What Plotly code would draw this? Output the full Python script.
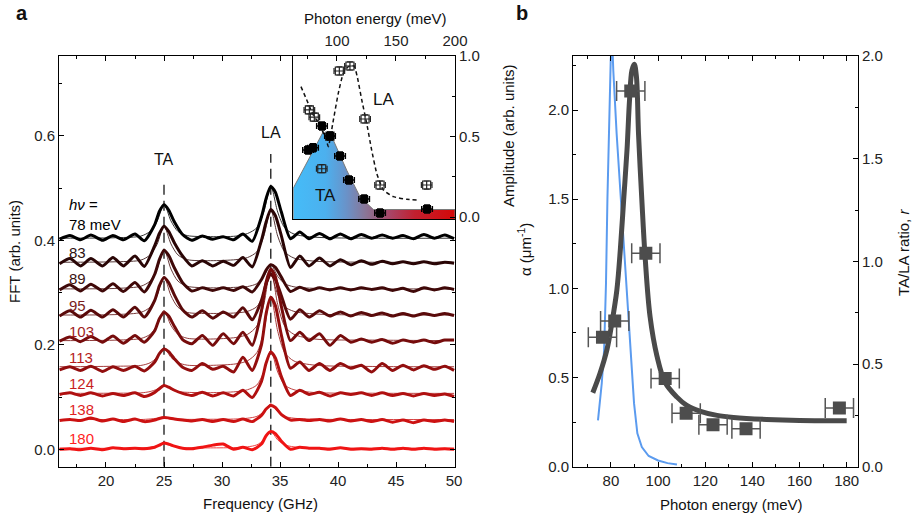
import plotly.graph_objects as go

# ---------------- Panel a: FFT spectra (values relative to each trace's offset) ----------------
freq = [16.0, 16.9, 17.8, 18.7, 19.7, 20.6, 21.5, 22.5, 23.3,
        24.2, 24.6, 25.0, 25.4, 25.9, 26.6,
        27.4, 28.3, 29.2, 30.1, 31.0, 31.8, 32.6,
        33.4, 33.8, 34.2, 34.6, 35.1,
        35.9, 36.7, 37.5, 38.4, 39.3, 40.2, 41.1, 42.0, 42.9, 43.8, 44.7, 45.6, 46.5, 47.4, 48.3, 49.2, 50.0]

energies_a = ["78", "83", "89", "95", "103", "113", "124", "138", "180"]
offsets = [0.40, 0.355, 0.305, 0.255, 0.205, 0.155, 0.105, 0.055, 0.0]

fft_78 = [.002, .009, .001, .010, .000, .009, .001, .012, -.001,
          .030, .055, .068, .058, .035, .011,
          .000, .008, .002, .007, .001, .012, -.002,
          .045, .080, .103, .092, .055,
          .003, .016, .003, .013, .003, .012, .003, .011, .004, .010, .004, .009, .003, .011, .004, .010, .003]
fft_83 = [.000, .010, -.004, .010, -.004, .012, -.004, .015, -.005,
          .035, .058, .072, .062, .040, .015,
          -.004, .006, -.004, .005, -.003, .012, -.006,
          .045, .080, .104, .092, .055,
          -.007, .015, -.004, .011, -.004, .008, -.002, .006, -.001, .005, .000, .004, .000, .004, .000, .003, .001]
fft_89 = [.000, .010, -.002, .011, -.002, .012, -.003, .014, -.004,
          .030, .058, .076, .066, .042, .014,
          -.002, .004, -.001, .004, -.001, .006, -.004,
          .020, .038, .048, .043, .025,
          -.003, .005, -.001, .004, .000, .004, .000, .004, .001, .004, -.001, .003, -.003, .004, .000, .004, .001]
fft_95 = [.000, .010, -.002, .011, -.002, .012, -.002, .017, -.002,
          .030, .058, .074, .064, .040, .012,
          -.002, .010, -.004, .008, -.002, .016, -.007,
          .030, .062, .080, .070, .040,
          -.006, .012, -.002, .010, .000, .008, .000, .007, .001, .006, .000, .005, .000, .005, .001, .005, .001]
fft_103 = [.002, .010, .001, .011, .000, .012, -.002, .013, .000,
           .022, .045, .057, .050, .030, .005,
           -.003, .013, -.006, .016, -.003, .019, -.006,
           .060, .115, .140, .125, .070,
           .003, .019, .003, .016, -.006, .013, .000, .006, .000, .005, -.002, .004, .000, .004, -.001, .004, .004]
fft_113 = [-.003, .003, -.004, .004, -.006, .003, -.004, .004, -.005,
           .012, .028, .037, .032, .018, .002,
           -.004, .009, -.002, .004, -.007, .021, -.004,
           .045, .105, .136, .120, .065,
           .000, .012, -.004, .009, -.004, .009, .000, .006, -.007, .009, -.004, .006, -.003, .005, -.002, .004, -.004]
fft_124 = [.000, .003, -.002, .003, -.003, .002, -.002, .003, -.004,
           .004, .011, .017, .014, .008, .002,
           -.002, .004, -.003, .003, -.003, .008, -.006,
           .025, .060, .081, .070, .035,
           -.002, .008, .000, .004, -.003, .003, .000, .003, -.002, .003, -.002, .002, -.003, .002, -.002, .001, -.004]
fft_138 = [.000, .002, .000, .005, -.001, .003, -.002, .003, -.002,
           .001, .004, .006, .005, .003, .001,
           -.001, .002, -.002, .002, -.002, .003, -.002,
           .010, .022, .029, .025, .012,
           .001, .002, .000, .002, -.001, .003, -.001, .002, -.002, .002, -.003, .001, -.004, .001, -.002, .001, -.002]
fft_180 = [.000, .001, -.001, .002, -.001, .003, .001, .002, .001,
           .004, .008, .012, .010, .006, .002,
           .001, .004, .008, .010, .000, .004, -.001,
           .010, .026, .034, .030, .016,
           .000, .004, .002, .002, .000, .003, .000, .001, .000, .002, .000, .002, .000, .002, .000, .001, .000]

fit_freq = [16.0, 21.0, 23.0, 23.8, 24.4, 25.0, 25.6, 26.2, 27.0, 29.0, 31.2,
            32.2, 33.0, 33.6, 34.2, 34.8, 35.4, 36.2, 38.0, 43.0, 50.0]
fit_78 = [.004, .005, .008, .017, .036, .069, .037, .017, .009, .007, .008, .013, .024, .054, .104, .054, .024, .012, .006, .004, .004]
fit_83 = [.003, .004, .007, .017, .037, .072, .038, .017, .008, .006, .008, .012, .023, .053, .103, .053, .023, .011, .005, .003, .003]
fit_89 = [.002, .003, .007, .017, .040, .078, .040, .017, .007, .004, .005, .0065, .012, .026, .049, .026, .012, .006, .003, .002, .002]
fit_95 = [.002, .003, .007, .017, .039, .075, .039, .017, .007, .005, .006, .009, .018, .041, .080, .041, .018, .009, .004, .002, .002]
fit_103 = [.003, .004, .007, .015, .032, .061, .032, .015, .0075, .006, .009, .015, .031, .072, .141, .072, .031, .015, .006, .004, .003]
fit_113 = [.003, .004, .0055, .0105, .021, .039, .021, .011, .006, .0056, .0085, .0144, .030, .071, .138, .071, .030, .014, .006, .0035, .003]
fit_124 = [.002, .0024, .003, .0055, .010, .018, .010, .0055, .004, .0034, .0053, .009, .018, .043, .084, .043, .018, .009, .0036, .0023, .002]
fit_138 = [.002, .002, .002, .003, .0045, .007, .0045, .003, .0023, .0025, .003, .0045, .008, .017, .032, .017, .008, .0045, .0026, .002, .002]
fit_180 = [.002, .002, .0026, .004, .0065, .011, .0065, .004, .0027, .0027, .0033, .0047, .0085, .018, .034, .018, .0085, .0047, .0026, .002, .002]

TA_FREQ = 25.0
LA_FREQ = 34.2

# ---------------- Inset: TA / LA amplitudes ----------------
ta_energy = [75.5, 79.7, 87.3, 94.1, 102.6, 110.2, 123.0, 136.5, 176.3]
ta_amp = [0.416, 0.43, 0.565, 0.503, 0.379, 0.23, 0.112, 0.025, 0.05]
la_energy = [76.6, 80.8, 87.1, 94.1, 102.0, 111.0, 123.8, 136.5, 176.0]
la_amp = [0.665, 0.62, 0.30, 0.503, 0.907, 0.938, 0.609, 0.199, 0.199]
inset_dash_e = [69.5, 74.4, 79.9, 85.6, 91.3, 92.7, 96.9, 101.1, 105.4, 109.6, 114.4, 117.2,
                121.0, 125.2, 129.4, 133.7, 139.3, 147.7, 159.1, 168.9]
inset_dash_v = [0.81, 0.727, 0.634, 0.571, 0.468, 0.437, 0.60, 0.768, 0.893, 0.934, 0.938, 0.871,
                0.727, 0.582, 0.416, 0.271, 0.168, 0.127, 0.11, 0.106]
ta_area_e = [63.0, 63.0, 88.4, 96.9, 108.3, 119.5, 130.8, 200.0, 200.0]
ta_area_v = [-0.05, 0.18, 0.53, 0.478, 0.29, 0.126, 0.047, 0.047, -0.05]

# ---------------- Panel b ----------------
energy_b = [76.4, 81.6, 88.4, 94.8, 103.0, 111.9, 123.3, 137.3, 176.9]
ratio_b = [0.63, 0.71, 1.83, 1.04, 0.43, 0.26, 0.204, 0.185, 0.286]
energy_err_b = 6.0
ratio_fit_e = [72.3, 75.4, 78.3, 80.4, 82.5, 84.0, 85.4, 86.8, 87.9, 88.9, 89.9, 90.8, 91.7, 93.1,
               94.5, 96.6, 99.5, 103.0, 107.9, 112.0, 118.0, 125.0, 132.0, 146.0, 160.0, 180.0]
ratio_fit_r = [0.36, 0.456, 0.57, 0.70, 0.86, 1.06, 1.30, 1.54, 1.79, 1.93, 1.96, 1.90, 1.62, 1.30,
               1.02, 0.73, 0.54, 0.41, 0.34, 0.30, 0.27, 0.25, 0.24, 0.23, 0.225, 0.224]
alpha_e = [74.5, 76.1, 77.1, 77.9, 78.5, 79.2, 79.9, 80.5, 81.0, 82.4, 83.8, 85.2, 86.9, 88.5,
           89.8, 91.2, 93.1, 96.0, 100.0, 104.0, 108.0]
alpha_v = [0.26, 0.468, 0.654, 1.03, 1.50, 1.96, 2.28, 2.40, 2.22, 1.87, 1.59, 1.29, 0.97, 0.65,
           0.355, 0.187, 0.11, 0.06, 0.035, 0.02, 0.012]

# ---------------- styling ----------------
FONT = "Liberation Sans, Arial, sans-serif"
line_colors = ["#000000", "#2a0606", "#3f0808", "#5a0a0a", "#760c0c", "#920e0e", "#b01010", "#cc1212", "#f01414"]
label_colors = ["#000000", "#2a1010", "#3a1212", "#7a1c1c", "#a01c1c", "#b41c1c", "#c81e1e", "#e01f1f", "#ff1f1f"]

fft_data = [fft_78, fft_83, fft_89, fft_95, fft_103, fft_113, fft_124, fft_138, fft_180]
fit_data = [fit_78, fit_83, fit_89, fit_95, fit_103, fit_113, fit_124, fit_138, fit_180]

W, H = 913, 518
def px_x(p): return p / W
def px_y(p): return 1 - p / H

fig = go.Figure()

for i in range(len(energies_a)):
    off = offsets[i]
    fig.add_trace(go.Scatter(x=freq, y=[v + off for v in fft_data[i]], mode="lines",
                             line=dict(color=line_colors[i], width=3, shape="spline", smoothing=0.6),
                             xaxis="x", yaxis="y"))
    fig.add_trace(go.Scatter(x=fit_freq, y=[v + off for v in fit_data[i]], mode="lines",
                             line=dict(color=line_colors[i], width=1, shape="spline", smoothing=0.8),
                             opacity=0.8, xaxis="x", yaxis="y"))

# inset
fig.add_trace(go.Scatter(x=ta_area_e, y=ta_area_v, mode="lines", fill="toself",
                         fillgradient=dict(type="horizontal",
                                           colorscale=[[0, "#45bcf8"], [0.2, "#4cb0ee"], [0.33, "#6a92c8"],
                                                       [0.45, "#8a7596"], [0.6, "#a84466"], [0.75, "#c22030"],
                                                       [1, "#d40808"]]),
                         line=dict(color="#7a7a7a", width=1), xaxis="x3", yaxis="y3"))
fig.add_trace(go.Scatter(x=inset_dash_e, y=inset_dash_v, mode="lines",
                         line=dict(color="#111", width=1.5, dash="4px,3px", shape="spline", smoothing=0.5),
                         xaxis="x3", yaxis="y3"))
fig.add_trace(go.Scatter(x=la_energy, y=la_amp, mode="markers",
                         marker=dict(symbol="square-open", size=8, color="#222", line=dict(width=1.2)),
                         error_x=dict(type="constant", value=4.5, width=3, thickness=1.2, color="#222"),
                         error_y=dict(type="constant", value=0.025, width=3, thickness=1.2, color="#222"),
                         xaxis="x3", yaxis="y3"))
fig.add_trace(go.Scatter(x=ta_energy, y=ta_amp, mode="markers",
                         marker=dict(symbol="square", size=8, color="#000"),
                         error_x=dict(type="constant", value=4.5, width=3, thickness=1.5, color="#000"),
                         error_y=dict(type="constant", value=0.025, width=3, thickness=1.5, color="#000"),
                         xaxis="x3", yaxis="y3"))

# panel b
fig.add_trace(go.Scatter(x=alpha_e, y=alpha_v, mode="lines",
                         line=dict(color="#5b9bef", width=2), xaxis="x4", yaxis="y4"))
fig.add_trace(go.Scatter(x=ratio_fit_e, y=ratio_fit_r, mode="lines", line_shape="spline",
                         line=dict(color="#4a4a4a", width=5), xaxis="x4", yaxis="y5"))
fig.add_trace(go.Scatter(x=energy_b, y=ratio_b, mode="markers",
                         marker=dict(symbol="square", size=13, color="#4d4d4d"),
                         error_x=dict(type="constant", value=energy_err_b, width=10, thickness=1.5, color="#555"),
                         xaxis="x4", yaxis="y5"))

dom_y = [px_y(466.7), px_y(56)]
common = dict(showgrid=False, zeroline=False, showline=True, linecolor="#000", linewidth=1,
              automargin=False,
              ticks="inside", ticklen=5, tickcolor="#000", tickfont=dict(size=15, color="#222"))

fig.update_layout(
    template="none",
    width=W, height=H, margin=dict(l=0, r=0, t=0, b=0, autoexpand=False), autosize=False,
    paper_bgcolor="white", plot_bgcolor="white", showlegend=False,
    font=dict(family=FONT, size=15, color="#222"),
    xaxis=dict(domain=[px_x(59), px_x(455)], range=[15.95, 50.08], anchor="y",
               tick0=0, dtick=5, mirror="ticks",
               minor=dict(ticks="inside", dtick=2.5, ticklen=3, tickcolor="#000"), **common),
    yaxis=dict(domain=dom_y, range=[-0.0333, 0.7527], anchor="x",
               tick0=0, dtick=0.2, tickformat=".1f", mirror="ticks",
               minor=dict(ticks="inside", dtick=0.1, ticklen=3, tickcolor="#000"), **common),
    xaxis3=dict(domain=[px_x(293.3), px_x(455)], range=[63, 200], anchor="y3", side="top",
                tick0=0, dtick=50, mirror=True, ticklabelstandoff=3,
                minor=dict(ticks="inside", dtick=25, ticklen=3, tickcolor="#000"), **common),
    yaxis3=dict(domain=[px_y(219), px_y(56)], range=[-0.012, 1.0], anchor="x3", side="right",
                tick0=0, dtick=0.5, tickformat=".1f", mirror=True,
                minor=dict(ticks="inside", dtick=0.25, ticklen=3, tickcolor="#000"), **common),
    xaxis4=dict(domain=[px_x(573), px_x(858)], range=[63.9, 184.8], anchor="y4",
                tick0=0, dtick=20, mirror="ticks",
                minor=dict(ticks="inside", dtick=10, ticklen=3, tickcolor="#000"), **common),
    yaxis4=dict(domain=dom_y, range=[0, 2.303], anchor="x4",
                tick0=0, dtick=0.5, tickformat=".1f",
                minor=dict(ticks="inside", dtick=0.25, ticklen=3, tickcolor="#000"), **common),
    yaxis5=dict(range=[0, 2.0], anchor="x4", overlaying="y4", side="right",
                tick0=0, dtick=0.5, tickformat=".1f",
                minor=dict(ticks="inside", dtick=0.25, ticklen=3, tickcolor="#000"), **common),
)

shapes = []
for f, top in [(TA_FREQ, 0.513), (LA_FREQ, 0.565)]:
    shapes.append(dict(type="line", xref="x", yref="y", x0=f, x1=f, y0=-0.0333, y1=top,
                       line=dict(color="#333", width=1.5, dash="10px,6px"), layer="below"))
fig.update_layout(shapes=shapes)

ann = []
def paper_text(text, x, y, size=15, angle=0, bold=False, xanchor="center"):
    if bold:
        text = "<b>" + text + "</b>"
    ann.append(dict(text=text, x=px_x(x), y=px_y(y), xref="paper", yref="paper", showarrow=False,
                    font=dict(family=FONT, size=size, color="#111"), textangle=angle,
                    xanchor=xanchor, yanchor="middle"))

paper_text("a", 22, 13, size=20, bold=True)
paper_text("b", 522, 13, size=20, bold=True)
paper_text("FFT (arb. units)", 14, 252, angle=-90)
paper_text("Frequency (GHz)", 260.5, 503)
paper_text("Photon energy (meV)", 375, 18)
paper_text("Photon energy (meV)", 731, 504)
paper_text("Amplitude (arb. units)", 508, 135, angle=-90)
paper_text("α (μm<sup>-1</sup>)", 525, 250, angle=-90)
paper_text("TA/LA ratio, <i>r</i>", 903, 253, angle=-90)

# TA / LA labels on panel a
ann.append(dict(text="TA", x=TA_FREQ, y=0.555, xref="x", yref="y", showarrow=False,
                font=dict(family=FONT, size=16, color="#111")))
ann.append(dict(text="LA", x=LA_FREQ, y=0.607, xref="x", yref="y", showarrow=False,
                font=dict(family=FONT, size=16, color="#111")))
# energy labels
ann.append(dict(text="<i>hν</i> =", x=16.62, y=0.468, xref="x", yref="y", showarrow=False,
                xanchor="left", font=dict(family=FONT, size=15, color="#000")))
for i, e in enumerate(energies_a):
    t = e + " meV" if i == 0 else e
    ann.append(dict(text=t, x=16.62, y=offsets[i] + (0.031 if i == 0 else 0.021), xref="x", yref="y",
                    showarrow=False, xanchor="left",
                    font=dict(family=FONT, size=15, color=label_colors[i])))
# inset labels
ann.append(dict(text="TA", x=89.9, y=0.137, xref="x3", yref="y3", showarrow=False,
                font=dict(family=FONT, size=17, color="#111")))
ann.append(dict(text="LA", x=139, y=0.727, xref="x3", yref="y3", showarrow=False,
                font=dict(family=FONT, size=17, color="#111")))
fig.update_layout(annotations=ann)

fig.write_html("out.html", config={"displayModeBar": False},
               post_script="document.body.style.margin='0';document.body.style.overflow='hidden';")
